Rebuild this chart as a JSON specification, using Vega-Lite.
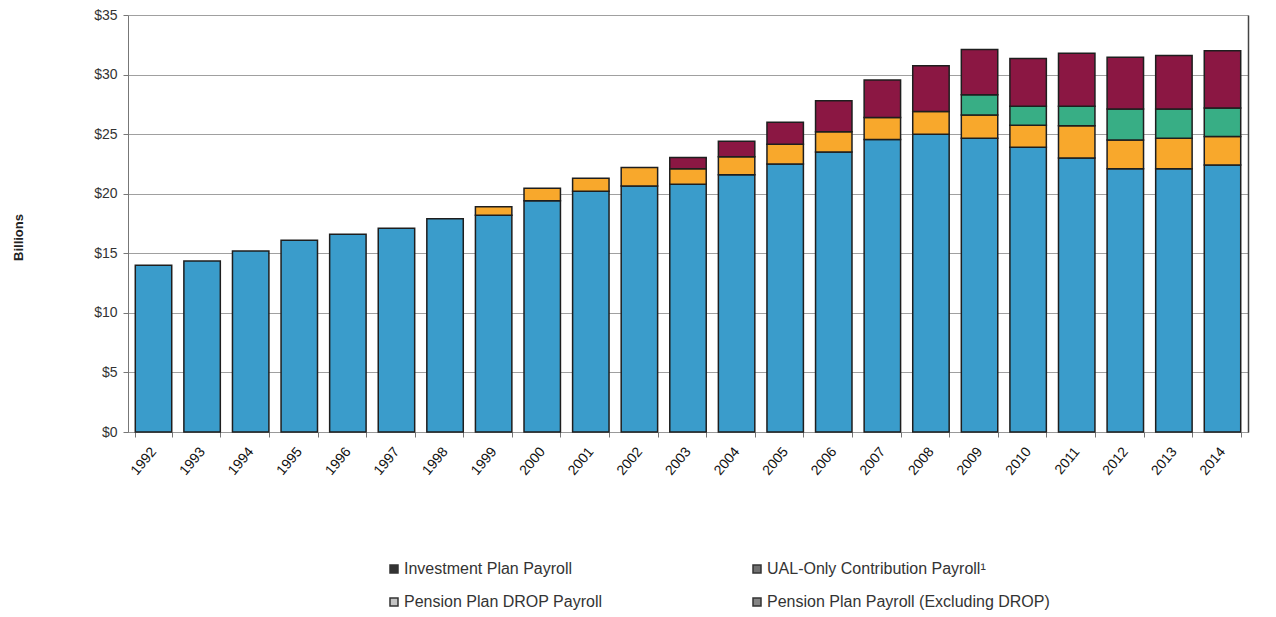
{
  "$schema": "https://vega.github.io/schema/vega-lite/v6.json",
  "width": 1120,
  "height": 417,
  "autosize": "none",
  "padding": {"left": 128, "top": 15, "right": 28, "bottom": 185},
  "background": "white",
  "config": {
    "font": "Liberation Sans",
    "view": {"stroke": null},
    "axis": {"labelFont": "Liberation Sans", "titleFont": "Liberation Sans"}
  },
  "data": {
    "values": [
      {"year": "1992", "series": "Pension Plan Payroll (Excluding DROP)", "o": 1, "value": 14.0},
      {"year": "1993", "series": "Pension Plan Payroll (Excluding DROP)", "o": 1, "value": 14.35},
      {"year": "1994", "series": "Pension Plan Payroll (Excluding DROP)", "o": 1, "value": 15.2},
      {"year": "1995", "series": "Pension Plan Payroll (Excluding DROP)", "o": 1, "value": 16.1},
      {"year": "1996", "series": "Pension Plan Payroll (Excluding DROP)", "o": 1, "value": 16.6},
      {"year": "1997", "series": "Pension Plan Payroll (Excluding DROP)", "o": 1, "value": 17.1},
      {"year": "1998", "series": "Pension Plan Payroll (Excluding DROP)", "o": 1, "value": 17.9},
      {"year": "1999", "series": "Pension Plan Payroll (Excluding DROP)", "o": 1, "value": 18.2},
      {"year": "2000", "series": "Pension Plan Payroll (Excluding DROP)", "o": 1, "value": 19.4},
      {"year": "2001", "series": "Pension Plan Payroll (Excluding DROP)", "o": 1, "value": 20.2},
      {"year": "2002", "series": "Pension Plan Payroll (Excluding DROP)", "o": 1, "value": 20.65},
      {"year": "2003", "series": "Pension Plan Payroll (Excluding DROP)", "o": 1, "value": 20.8},
      {"year": "2004", "series": "Pension Plan Payroll (Excluding DROP)", "o": 1, "value": 21.6},
      {"year": "2005", "series": "Pension Plan Payroll (Excluding DROP)", "o": 1, "value": 22.5},
      {"year": "2006", "series": "Pension Plan Payroll (Excluding DROP)", "o": 1, "value": 23.5},
      {"year": "2007", "series": "Pension Plan Payroll (Excluding DROP)", "o": 1, "value": 24.55},
      {"year": "2008", "series": "Pension Plan Payroll (Excluding DROP)", "o": 1, "value": 25.0},
      {"year": "2009", "series": "Pension Plan Payroll (Excluding DROP)", "o": 1, "value": 24.65},
      {"year": "2010", "series": "Pension Plan Payroll (Excluding DROP)", "o": 1, "value": 23.9},
      {"year": "2011", "series": "Pension Plan Payroll (Excluding DROP)", "o": 1, "value": 23.0},
      {"year": "2012", "series": "Pension Plan Payroll (Excluding DROP)", "o": 1, "value": 22.1},
      {"year": "2013", "series": "Pension Plan Payroll (Excluding DROP)", "o": 1, "value": 22.1},
      {"year": "2014", "series": "Pension Plan Payroll (Excluding DROP)", "o": 1, "value": 22.4},

      {"year": "1999", "series": "Pension Plan DROP Payroll", "o": 2, "value": 0.7},
      {"year": "2000", "series": "Pension Plan DROP Payroll", "o": 2, "value": 1.05},
      {"year": "2001", "series": "Pension Plan DROP Payroll", "o": 2, "value": 1.1},
      {"year": "2002", "series": "Pension Plan DROP Payroll", "o": 2, "value": 1.55},
      {"year": "2003", "series": "Pension Plan DROP Payroll", "o": 2, "value": 1.3},
      {"year": "2004", "series": "Pension Plan DROP Payroll", "o": 2, "value": 1.5},
      {"year": "2005", "series": "Pension Plan DROP Payroll", "o": 2, "value": 1.65},
      {"year": "2006", "series": "Pension Plan DROP Payroll", "o": 2, "value": 1.7},
      {"year": "2007", "series": "Pension Plan DROP Payroll", "o": 2, "value": 1.85},
      {"year": "2008", "series": "Pension Plan DROP Payroll", "o": 2, "value": 1.9},
      {"year": "2009", "series": "Pension Plan DROP Payroll", "o": 2, "value": 1.95},
      {"year": "2010", "series": "Pension Plan DROP Payroll", "o": 2, "value": 1.85},
      {"year": "2011", "series": "Pension Plan DROP Payroll", "o": 2, "value": 2.7},
      {"year": "2012", "series": "Pension Plan DROP Payroll", "o": 2, "value": 2.4},
      {"year": "2013", "series": "Pension Plan DROP Payroll", "o": 2, "value": 2.55},
      {"year": "2014", "series": "Pension Plan DROP Payroll", "o": 2, "value": 2.4},

      {"year": "2009", "series": "UAL-Only Contribution Payroll¹", "o": 3, "value": 1.7},
      {"year": "2010", "series": "UAL-Only Contribution Payroll¹", "o": 3, "value": 1.6},
      {"year": "2011", "series": "UAL-Only Contribution Payroll¹", "o": 3, "value": 1.65},
      {"year": "2012", "series": "UAL-Only Contribution Payroll¹", "o": 3, "value": 2.6},
      {"year": "2013", "series": "UAL-Only Contribution Payroll¹", "o": 3, "value": 2.45},
      {"year": "2014", "series": "UAL-Only Contribution Payroll¹", "o": 3, "value": 2.4},

      {"year": "2003", "series": "Investment Plan Payroll", "o": 4, "value": 0.95},
      {"year": "2004", "series": "Investment Plan Payroll", "o": 4, "value": 1.3},
      {"year": "2005", "series": "Investment Plan Payroll", "o": 4, "value": 1.85},
      {"year": "2006", "series": "Investment Plan Payroll", "o": 4, "value": 2.6},
      {"year": "2007", "series": "Investment Plan Payroll", "o": 4, "value": 3.15},
      {"year": "2008", "series": "Investment Plan Payroll", "o": 4, "value": 3.85},
      {"year": "2009", "series": "Investment Plan Payroll", "o": 4, "value": 3.8},
      {"year": "2010", "series": "Investment Plan Payroll", "o": 4, "value": 4.0},
      {"year": "2011", "series": "Investment Plan Payroll", "o": 4, "value": 4.45},
      {"year": "2012", "series": "Investment Plan Payroll", "o": 4, "value": 4.35},
      {"year": "2013", "series": "Investment Plan Payroll", "o": 4, "value": 4.5},
      {"year": "2014", "series": "Investment Plan Payroll", "o": 4, "value": 4.8}
    ]
  },
  "layer": [
    {
      "mark": {"type": "bar", "stroke": "#1e1e1e", "strokeWidth": 1.5},
      "encoding": {
        "x": {
          "field": "year",
          "type": "ordinal",
          "scale": {"paddingInner": 0.25, "paddingOuter": 0.15},
          "axis": {
            "title": null,
            "labelAngle": -50,
            "labelAlign": "right",
            "labelBaseline": "middle",
            "labelFontSize": 14,
            "labelColor": "#111",
            "labelPadding": 12,
            "tickBand": "extent",
            "tickSize": 5,
            "tickColor": "#777",
            "domainColor": "#999",
            "grid": false
          }
        },
        "y": {
          "field": "value",
          "type": "quantitative",
          "stack": "zero",
          "scale": {"domain": [0, 35], "nice": false},
          "axis": {
            "title": "Billions",
            "titleFontSize": 13,
            "titleFontWeight": "bold",
            "titleColor": "#222",
            "titlePadding": 68,
            "titleY": 222,
            "values": [0, 5, 10, 15, 20, 25, 30, 35],
            "format": "$,.0f",
            "labelFontSize": 14,
            "labelColor": "#333",
            "labelPadding": 6,
            "tickSize": 5,
            "tickColor": "#777",
            "domainColor": "#777",
            "grid": true,
            "gridColor": "#a0a0a0",
            "gridWidth": 1
          }
        },
        "order": {"field": "o", "type": "quantitative"},
        "color": {
          "field": "series",
          "type": "nominal",
          "sort": "ascending",
          "scale": {
            "range": ["#8b1743", "#f8a82c", "#3a9ccb", "#38ae85"]
          },
          "legend": null
        }
      }
    },
    {
      "mark": {"type": "square", "size": 0, "filled": true},
      "encoding": {
        "fill": {
          "field": "series",
          "type": "nominal",
          "scale": {
            "domain": ["Investment Plan Payroll", "UAL-Only Contribution Payroll¹", "Pension Plan DROP Payroll", "Pension Plan Payroll (Excluding DROP)"],
            "range": ["#333333", "#707070", "#c4c4c4", "#858585"]
          },
          "legend": {
            "title": null,
            "orient": "none",
            "legendX": 258,
            "legendY": 546,
            "direction": "horizontal",
            "columns": 2,
            "columnPadding": 146,
            "rowPadding": 17,
            "symbolType": "square",
            "symbolSize": 64,
            "symbolOpacity": 1,
            "symbolStrokeColor": "#333333",
            "symbolStrokeWidth": 1.5,
            "labelFontSize": 16,
            "labelColor": "#333",
            "labelOffset": 2,
            "labelLimit": 400
          }
        }
      }
    },
    {
      "mark": {"type": "rule", "opacity": 0},
      "encoding": {
        "y": {
          "datum": 0,
          "type": "quantitative",
          "axis": {
            "orient": "right",
            "title": null,
            "labels": false,
            "ticks": false,
            "grid": false,
            "domainColor": "#444",
            "domainWidth": 1.5
          }
        }
      }
    }
  ],
  "resolve": {"axis": {"y": "independent"}}
}
